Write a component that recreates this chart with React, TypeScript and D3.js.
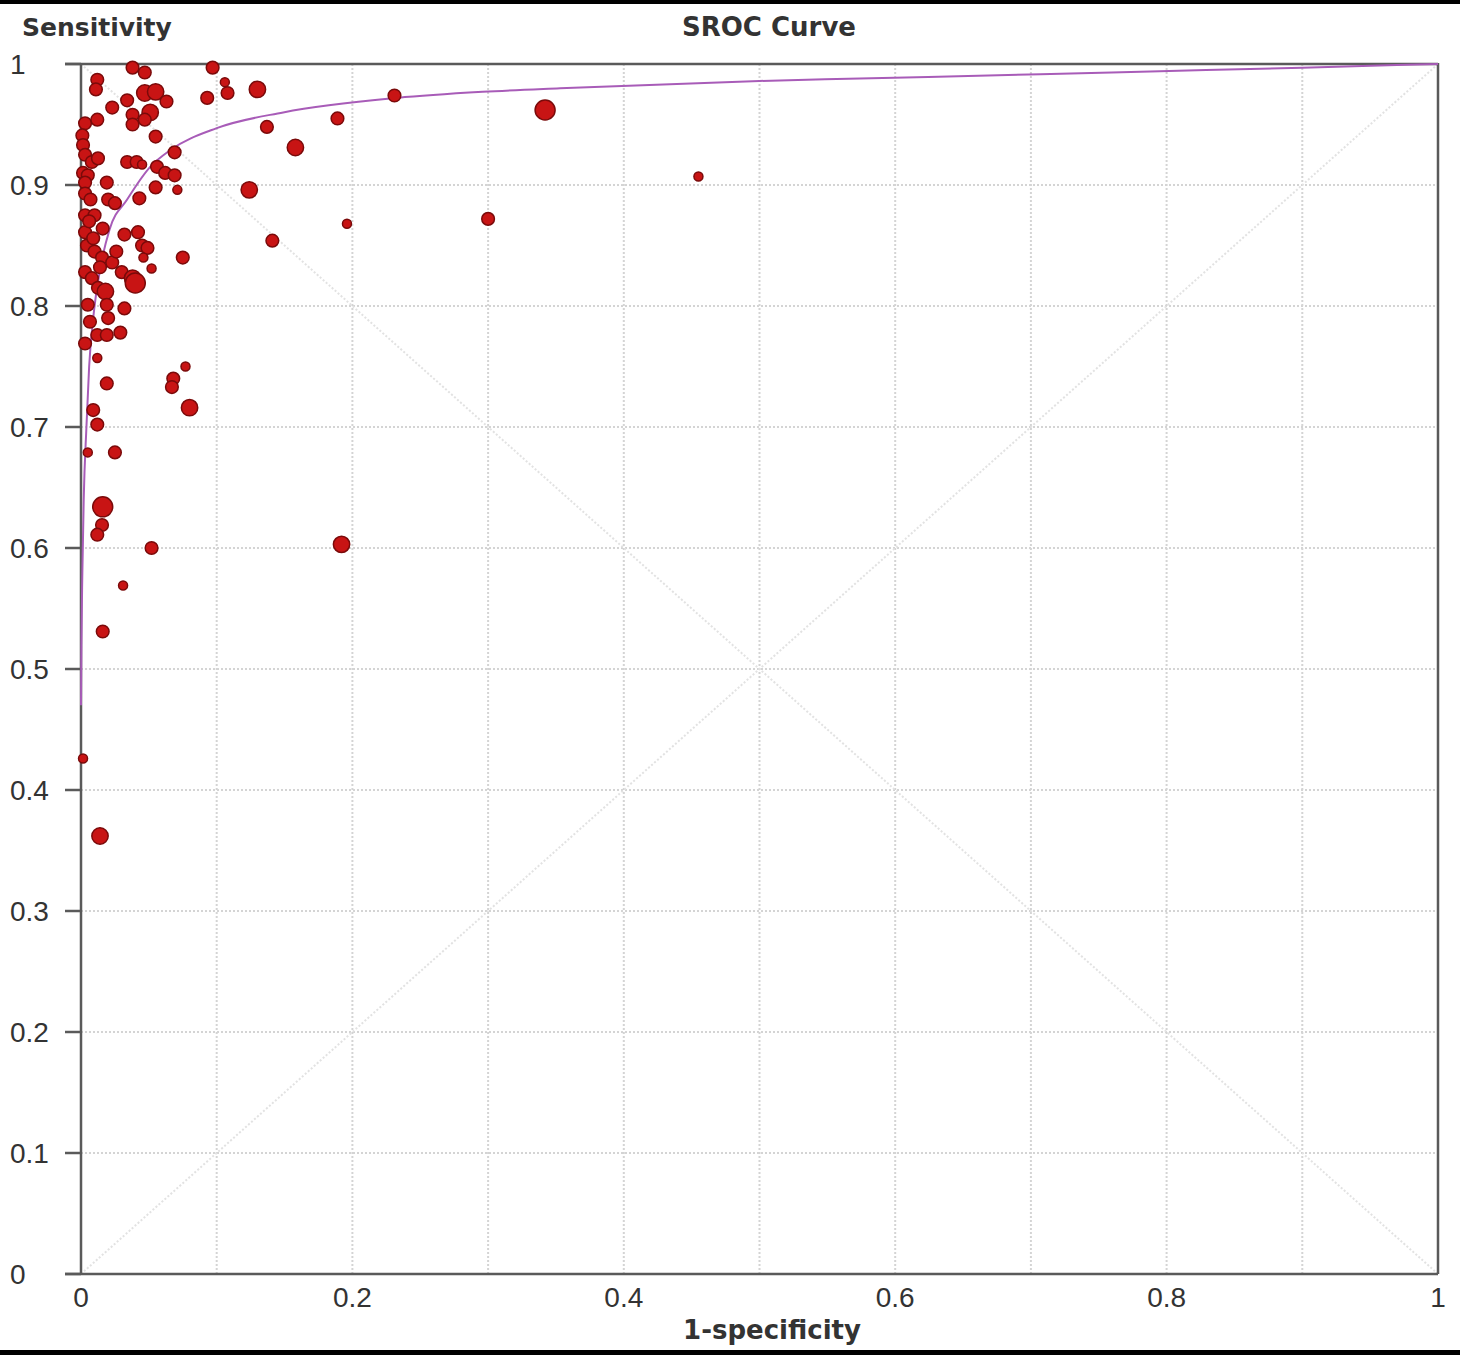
import React from 'react';
import * as d3 from 'd3';

// study points: 1-specificity, sensitivity, relative weight (marker size)
const fpr = [
  0.038, 0.047, 0.012, 0.011, 0.097, 0.106, 0.108, 0.130, 0.093, 0.047,
  0.055, 0.034, 0.063, 0.023, 0.038, 0.051, 0.047, 0.038, 0.055, 0.069,
  0.003, 0.012, 0.001, 0.0015, 0.003, 0.008, 0.0125, 0.0015, 0.005, 0.003,
  0.034, 0.041, 0.045, 0.056, 0.062, 0.069, 0.055, 0.071, 0.019, 0.003,
  0.020, 0.043, 0.137, 0.189, 0.231, 0.342, 0.455, 0.158, 0.124, 0.141,
  0.196, 0.300, 0.025, 0.003, 0.010, 0.016, 0.032, 0.042, 0.045, 0.049,
  0.075, 0.046, 0.052, 0.003, 0.0044, 0.010, 0.0155, 0.023, 0.030, 0.038,
  0.040, 0.003, 0.008, 0.0125, 0.018, 0.005, 0.019, 0.032, 0.0066, 0.020,
  0.012, 0.019, 0.029, 0.003, 0.012, 0.019, 0.077, 0.068, 0.067, 0.080,
  0.009, 0.012, 0.005, 0.025, 0.016, 0.0155, 0.012, 0.052, 0.192, 0.031,
  0.016, 0.0015, 0.014, 0.006, 0.009, 0.014, 0.026, 0.007
];
const tpr = [
  0.997, 0.993, 0.987, 0.979, 0.997, 0.985, 0.976, 0.979, 0.972, 0.976,
  0.977, 0.970, 0.969, 0.964, 0.958, 0.960, 0.954, 0.950, 0.940, 0.927,
  0.951, 0.954, 0.941, 0.933, 0.925, 0.919, 0.922, 0.910, 0.908, 0.902,
  0.919, 0.919, 0.917, 0.915, 0.910, 0.908, 0.898, 0.896, 0.902, 0.893,
  0.888, 0.889, 0.948, 0.955, 0.974, 0.962, 0.907, 0.931, 0.896, 0.854,
  0.868, 0.872, 0.885, 0.875, 0.875, 0.864, 0.859, 0.861, 0.850, 0.848,
  0.840, 0.840, 0.831, 0.861, 0.850, 0.845, 0.840, 0.836, 0.828, 0.823,
  0.819, 0.828, 0.823, 0.815, 0.812, 0.801, 0.801, 0.798, 0.787, 0.790,
  0.776, 0.776, 0.778, 0.769, 0.757, 0.736, 0.750, 0.740, 0.733, 0.716,
  0.714, 0.702, 0.679, 0.679, 0.634, 0.619, 0.611, 0.600, 0.603, 0.569,
  0.531, 0.426, 0.362, 0.870, 0.856, 0.832, 0.845, 0.888
];
const weight = [
  2, 2, 2, 2, 2, 1, 2, 3, 2, 3,
  3, 2, 2, 2, 2, 3, 2, 2, 2, 2,
  2, 2, 2, 2, 2, 2, 2, 2, 2, 2,
  2, 2, 1, 2, 2, 2, 2, 1, 2, 2,
  2, 2, 2, 2, 2, 4, 1, 3, 3, 2,
  1, 2, 2, 2, 2, 2, 2, 2, 2, 2,
  2, 1, 1, 2, 2, 2, 2, 2, 2, 3,
  4, 2, 2, 2, 3, 2, 2, 2, 2, 2,
  2, 2, 2, 2, 1, 2, 1, 2, 2, 3,
  2, 2, 1, 2, 4, 2, 2, 2, 3, 1,
  2, 1, 3, 2, 2, 2, 2, 2
];

// SROC curve
const curveX = [0, 0.0003, 0.001, 0.002, 0.004, 0.006, 0.009, 0.014, 0.021, 0.034, 0.051, 0.066, 0.1, 0.149, 0.233, 0.296, 0.353, 0.5, 0.574, 0.707, 0.795, 0.9, 1];
const curveY = [0.47, 0.52, 0.58, 0.64, 0.70, 0.75, 0.79, 0.83, 0.863, 0.888, 0.915, 0.929, 0.947, 0.96, 0.972, 0.977, 0.980, 0.986, 0.988, 0.9915, 0.994, 0.997, 1];

const xTicks = [0, 0.2, 0.4, 0.6, 0.8, 1];
const yTicks = [0, 0.1, 0.2, 0.3, 0.4, 0.5, 0.6, 0.7, 0.8, 0.9, 1];
const gridVals = [0.1, 0.2, 0.3, 0.4, 0.5, 0.6, 0.7, 0.8, 0.9];

const W = 1460;
const H = 1355;

export default function App() {
  const x = d3.scaleLinear().domain([0, 1]).range([81, 1438]);
  const y = d3.scaleLinear().domain([0, 1]).range([1274, 64]);
  const r = d3.scaleLinear().domain([1, 4]).range([4.5, 10]);

  const curve = d3.line<number>()
    .x(i => x(curveX[i]))
    .y(i => y(curveY[i]))
    .curve(d3.curveMonotoneX);

  const tickFont = '"Liberation Sans", Arial, sans-serif';
  const titleFont = '"DejaVu Sans", Verdana, sans-serif';
  const axisColor = '#5a5a5a';

  return (
    <svg width={W} height={H} style={{ position: 'absolute', left: 0, top: 0, background: '#fff' }}>
      <rect x={0} y={0} width={W} height={4} fill="#000" />
      <rect x={0} y={1350} width={W} height={5} fill="#000" />

      {/* grid */}
      {gridVals.map(v => (
        <g key={'g' + v}>
          <line x1={x(v)} x2={x(v)} y1={y(0)} y2={y(1)} stroke="#d4d4d4" strokeWidth={2} strokeDasharray="2,2" />
          <line x1={x(0)} x2={x(1)} y1={y(v)} y2={y(v)} stroke="#d4d4d4" strokeWidth={2} strokeDasharray="2,2" />
        </g>
      ))}
      {/* diagonals */}
      <line x1={x(0)} y1={y(0)} x2={x(1)} y2={y(1)} stroke="#e2e2e2" strokeWidth={2} strokeDasharray="2,2" />
      <line x1={x(0)} y1={y(1)} x2={x(1)} y2={y(0)} stroke="#e2e2e2" strokeWidth={2} strokeDasharray="2,2" />

      {/* frame */}
      <line x1={65} x2={x(1)} y1={y(0)} y2={y(0)} stroke={axisColor} strokeWidth={2.5} />
      <line x1={65} x2={x(1)} y1={y(1)} y2={y(1)} stroke={axisColor} strokeWidth={2.5} />
      <line x1={x(0)} x2={x(0)} y1={y(0)} y2={y(1)} stroke={axisColor} strokeWidth={2.5} />
      <line x1={x(1)} x2={x(1)} y1={y(0)} y2={y(1) - 1} stroke={axisColor} strokeWidth={2.5} />
      {yTicks.map(v => (
        <line key={'t' + v} x1={65} x2={x(0)} y1={y(v)} y2={y(v)} stroke={axisColor} strokeWidth={2.5} />
      ))}

      {/* SROC curve */}
      <path d={curve(d3.range(curveX.length)) || ''} fill="none" stroke="#a85cb8" strokeWidth={2} />

      {/* study points */}
      {fpr.map((f, i) => (
        <circle key={'p' + i} cx={x(f)} cy={y(tpr[i])} r={r(weight[i])} fill="#c81414" stroke="#7a0a0a" strokeWidth={1.5} />
      ))}

      {/* tick labels */}
      {yTicks.map(v => (
        <text key={'yl' + v} x={10} y={y(v)} dy="0.36em" fontFamily={tickFont} fontSize={28} fill="#333">{String(v)}</text>
      ))}
      {xTicks.map(v => (
        <text key={'xl' + v} x={x(v)} y={1307} textAnchor="middle" fontFamily={tickFont} fontSize={28} fill="#333">{String(v)}</text>
      ))}

      <text x={22} y={36} fontFamily={titleFont} fontSize={25} fontWeight="bold" fill="#333">Sensitivity</text>
      <text x={769} y={36} fontFamily={titleFont} fontSize={26} fontWeight="bold" fill="#333" textAnchor="middle">SROC Curve</text>
      <text x={772} y={1339} fontFamily={titleFont} fontSize={26} fontWeight="bold" fill="#333" textAnchor="middle">1-specificity</text>
    </svg>
  );
}
